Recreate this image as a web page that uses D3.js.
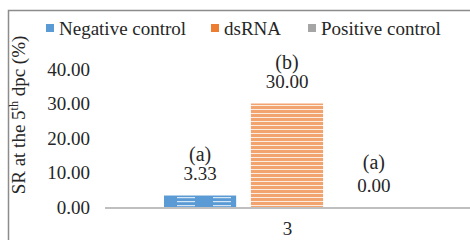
<!DOCTYPE html>
<html>
<head>
<meta charset="utf-8">
<script src="https://cdn.jsdelivr.net/npm/d3@7"></script>
<style>
  body { margin: 0; background: #fff; }
  svg text { font-family: "Liberation Serif", "Times New Roman", Times, serif !important; fill: #262626; }
</style>
</head>
<body>
<div id="chart"></div>
<script>
var w = 470, h = 240;

// data
var categories = ["3"];
var series = ["Negative control", "dsRNA", "Positive control"];
var values = [3.33, 30.00, 0.00];
var letters = ["(a)", "(b)", "(a)"];
var yTicks = [0, 10, 20, 30, 40];
var colors = ["#5b9bd5", "#ed7d31", "#a5a5a5"];

var margin = {left: 105, right: 0, top: 0, bottom: 0};

var svg = d3.select("#chart").append("svg")
  .attr("width", w).attr("height", h);

// patterns (striped fills)
var defs = svg.append("defs");
series.forEach(function(s, i) {
  var p = defs.append("pattern")
    .attr("id", "pat" + i)
    .attr("patternUnits", "userSpaceOnUse")
    .attr("width", 36).attr("height", 4);
  p.append("rect").attr("width", 36).attr("height", 4).attr("fill", colors[i]);
  if (i == 0) {
    p.append("rect").attr("y", 1).attr("width", 18).attr("height", 1.2)
      .attr("fill", "#fff").attr("opacity", 0.75);
  } else {
    p.append("rect").attr("width", 36).attr("height", 4)
      .attr("fill", "#fff").attr("opacity", 0.3);
    p.append("rect").attr("y", 1).attr("width", 36).attr("height", 1)
      .attr("fill", "#fff").attr("opacity", 0.8);
  }
});

// border
svg.append("rect")
  .attr("x", 8.5).attr("y", 10.5)
  .attr("width", w).attr("height", h)
  .attr("fill", "none").attr("stroke", "#8c8c8c").attr("stroke-width", 1.5);

var y = d3.scaleLinear().domain([0, 40]).range([207, 69]);
var x0 = d3.scaleBand().domain(categories).range([margin.left, w]);
var x1 = d3.scaleBand().domain(series).range([59, 305]).paddingInner(0.17);

// y tick labels
svg.selectAll(".ytick")
  .data(yTicks)
  .enter().append("text")
  .attr("class", "ytick")
  .attr("x", 90)
  .attr("y", function(d) { return y(d); })
  .attr("dy", "0.35em")
  .attr("text-anchor", "end")
  .style("font-size", "19px")
  .text(function(d) { return d3.format(".2f")(d); });

var g = svg.append("g").attr("transform", "translate(" + x0(categories[0]) + ",0)");

g.selectAll("rect.bar")
  .data(values)
  .enter().append("rect")
  .attr("class", "bar")
  .attr("x", function(d, i) { return x1(series[i]); })
  .attr("y", function(d) { return y(d); })
  .attr("width", x1.bandwidth())
  .attr("height", function(d) { return y(0) - y(d); })
  .style("fill", function(d, i) { return "url(#pat" + i + ")"; });

// value labels
g.selectAll("text.val")
  .data(values)
  .enter().append("text")
  .attr("class", "val")
  .attr("x", function(d, i) { return x1(series[i]) + x1.bandwidth() / 2; })
  .attr("y", function(d) { return y(d) - 22; })
  .attr("dy", "0.35em")
  .attr("text-anchor", "middle")
  .style("font-size", "19px")
  .text(function(d) { return d3.format(".2f")(d); });

g.selectAll("text.let")
  .data(letters)
  .enter().append("text")
  .attr("class", "let")
  .attr("x", function(d, i) { return x1(series[i]) + x1.bandwidth() / 2; })
  .attr("y", function(d, i) { return y(values[i]) - (i == 2 ? 45 : 42); })
  .attr("dy", "0.35em")
  .attr("text-anchor", "middle")
  .style("font-size", "20px")
  .text(function(d) { return d; });

// x axis line
svg.append("line")
  .attr("x1", margin.left).attr("x2", w)
  .attr("y1", y(0) + 1).attr("y2", y(0) + 1)
  .attr("stroke", "#bfbfbf").attr("stroke-width", 2);

// category label
svg.selectAll("text.cat")
  .data(categories)
  .enter().append("text")
  .attr("class", "cat")
  .attr("x", function(d) { return x0(d) + x0.bandwidth() / 2; })
  .attr("y", 228)
  .attr("dy", "0.35em")
  .attr("text-anchor", "middle")
  .style("font-size", "19px")
  .text(function(d) { return d; });

// y title
var yt = svg.append("text")
  .attr("transform", "translate(25,115) rotate(-90)")
  .attr("text-anchor", "middle")
  .style("font-size", "19px");
yt.append("tspan").text("SR at the 5");
yt.append("tspan").style("font-size", "12px").attr("dy", "-7").text("th");
yt.append("tspan").attr("dy", "7").text(" dpc (%)");

// legend
var legX = [46, 211, 308];
var leg = svg.selectAll("g.leg")
  .data(series)
  .enter().append("g")
  .attr("class", "leg")
  .attr("transform", function(d, i) { return "translate(" + legX[i] + ",24)"; });
leg.append("rect")
  .attr("width", 8).attr("height", 8)
  .style("fill", function(d, i) { return colors[i]; });
leg.append("text")
  .attr("x", 13).attr("y", 4)
  .attr("dy", "0.35em")
  .style("font-size", "19px")
  .text(function(d) { return d; });
</script>
</body>
</html>
